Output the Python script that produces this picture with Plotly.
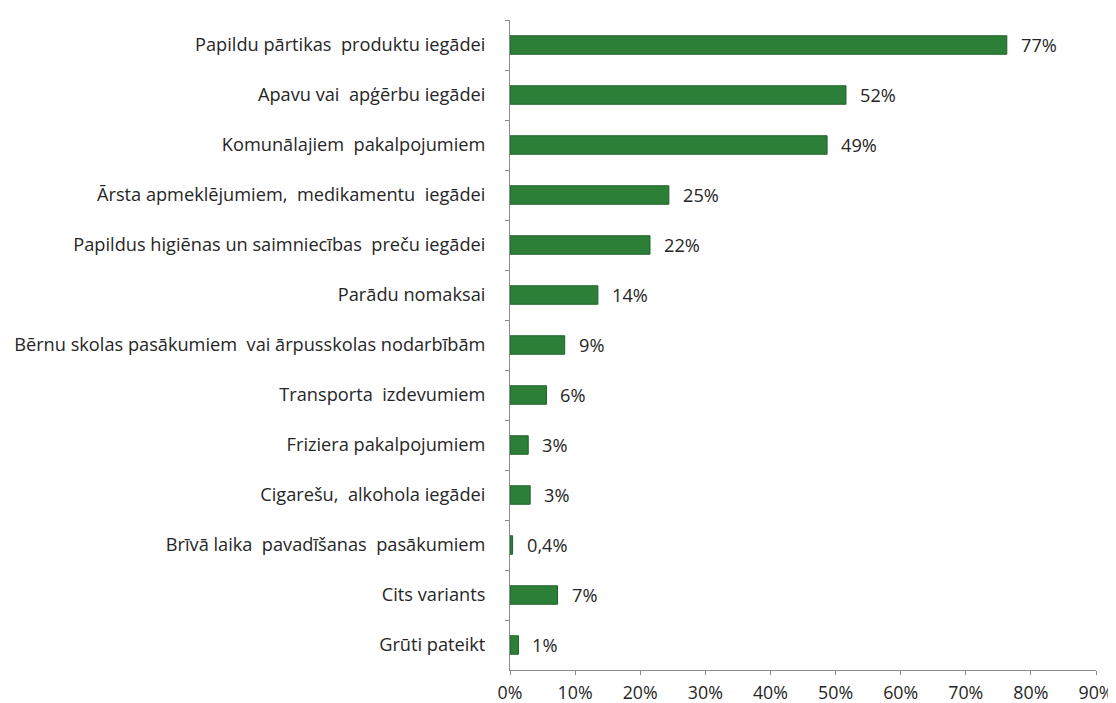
import plotly.graph_objects as go

categories = [
    "Papildu pārtikas  produktu iegādei",
    "Apavu vai  apģērbu iegādei",
    "Komunālajiem  pakalpojumiem",
    "Ārsta apmeklējumiem,  medikamentu  iegādei",
    "Papildus higiēnas un saimniecības  preču iegādei",
    "Parādu nomaksai",
    "Bērnu skolas pasākumiem  vai ārpusskolas nodarbībām",
    "Transporta  izdevumiem",
    "Friziera pakalpojumiem",
    "Cigarešu,  alkohola iegādei",
    "Brīvā laika  pavadīšanas  pasākumiem",
    "Cits variants",
    "Grūti pateikt",
]
values = [76.3, 51.6, 48.7, 24.4, 21.5, 13.5, 8.4, 5.6, 2.8, 3.1, 0.4, 7.3, 1.3]
value_labels = ["77%", "52%", "49%", "25%", "22%", "14%", "9%", "6%", "3%", "3%", "0,4%", "7%", "1%"]
x_ticks = [0, 10, 20, 30, 40, 50, 60, 70, 80, 90]

FONT = "Open Sans"
TXT = "#262626"
FS = 18.2
FS_SMALL = 17.8

fig = go.Figure()
fig.add_trace(go.Bar(
    x=values,
    y=categories,
    orientation="h",
    width=0.37,
    marker=dict(color="#2c7f37", line=dict(color="#1f632b", width=1)),
    hoverinfo="skip",
))

for v, lab, cat in zip(values, value_labels, categories):
    fig.add_annotation(
        x=v, y=cat, text=lab, showarrow=False,
        xanchor="left", yanchor="middle", xshift=12,
        font=dict(family=FONT, size=FS, color=TXT),
    )

# page body has an 8px margin, so the figure is sized/offset accordingly
fig.update_layout(
    width=1108, height=695,
    margin=dict(l=502, r=20, t=12, b=33),
    paper_bgcolor="white", plot_bgcolor="white",
    showlegend=False,
    font=dict(family=FONT, size=FS, color=TXT),
)
fig.update_yaxes(
    type="category",
    categoryorder="array", categoryarray=categories,
    autorange="reversed",
    automargin=False,
    showline=True, linecolor="#8c8c8c", linewidth=1,
    ticks="outside", tickson="boundaries", ticklen=4, tickcolor="#8c8c8c",
    ticklabelstandoff=20,
    showgrid=False, zeroline=False,
    tickfont=dict(family=FONT, size=FS, color=TXT),
)
fig.update_xaxes(
    range=[0, 90],
    tickvals=x_ticks,
    ticktext=[f"{t}%" for t in x_ticks],
    automargin=False,
    showline=True, linecolor="#8c8c8c", linewidth=1,
    ticks="outside", ticklen=4, tickcolor="#8c8c8c",
    ticklabelstandoff=3,
    showgrid=False, zeroline=False,
    tickfont=dict(family=FONT, size=FS_SMALL, color=TXT),
)

fig.write_html("out.html")
